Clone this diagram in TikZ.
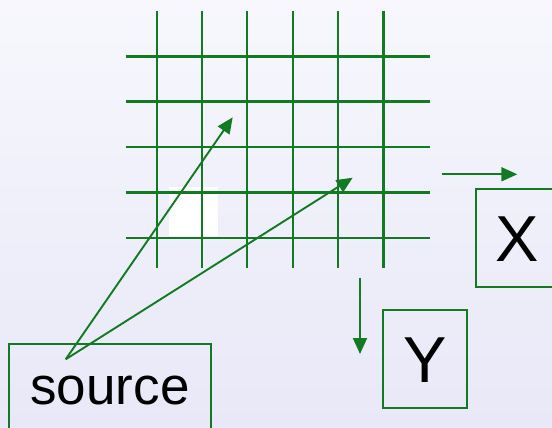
\documentclass[tikz,border=0pt]{standalone}
\usepackage{fontspec}
\setmainfont{Liberation Sans}
\usetikzlibrary{arrows.meta}
\definecolor{gr}{RGB}{18,122,34}
\definecolor{bgtop}{RGB}{247,247,253}
\definecolor{bgbot}{RGB}{232,232,248}
\tikzset{
  gridline/.style={draw=gr, line width=2.4pt},
  conn/.style={draw=gr, line width=1.9pt, -{Triangle[length=16pt,width=14pt]}},
  boxnode/.style={draw=gr, line width=2pt, rectangle, inner sep=0pt},
  lbl/.style={anchor=base, inner sep=0pt, text=black}
}
\begin{document}
\begin{tikzpicture}[x=1pt,y=-1pt]
\useasboundingbox (0,0) rectangle (552,428);
\clip (0,0) rectangle (552,428);
\shade[top color=bgtop, bottom color=bgbot] (0,0) rectangle (552,428);
% white patch
\fill[white] (169,186.7) rectangle (217.7,236);
% grid
\foreach \x in {156.7,202,247,292.7,338,383.3}
  \draw[gridline] (\x,10.7) -- (\x,268);
\foreach \y in {56.7,101.7,147,192.3,238}
  \draw[gridline] (125.7,\y) -- (430,\y);
% boxes
\node[boxnode, minimum width=202pt, minimum height=120pt] (source) at (110.3,404) {};
\node[boxnode, minimum width=120pt, minimum height=98.3pt] (X) at (535.7,237.8) {};
\node[boxnode, minimum width=84.3pt, minimum height=98.3pt] (Y) at (424.8,359.2) {};
\node[lbl, font=\fontsize{53}{53}\selectfont] (sourcetxt) at (110,404.5) {source};
\node[lbl, font=\fontsize{65}{65}\selectfont] (Xtxt) at (517.5,261.7) {X};
\node[lbl, font=\fontsize{65}{65}\selectfont] (Ytxt) at (425.5,382.7) {Y};
% connectors
\coordinate (s0) at (65.7,359.3);
\coordinate (t1) at (232.7,117.3);
\coordinate (t2) at (352.7,177.7);
\draw[conn] (s0) -- (t1);
\draw[conn] (s0) -- (t2);
\coordinate (xa) at (441.7,174.3);
\coordinate (xb) at (517.3,174.3);
\coordinate (ya) at (360,277.7);
\coordinate (yb) at (360,354);
\draw[conn] (xa) -- (xb);
\draw[conn] (ya) -- (yb);
\end{tikzpicture}
\end{document}
